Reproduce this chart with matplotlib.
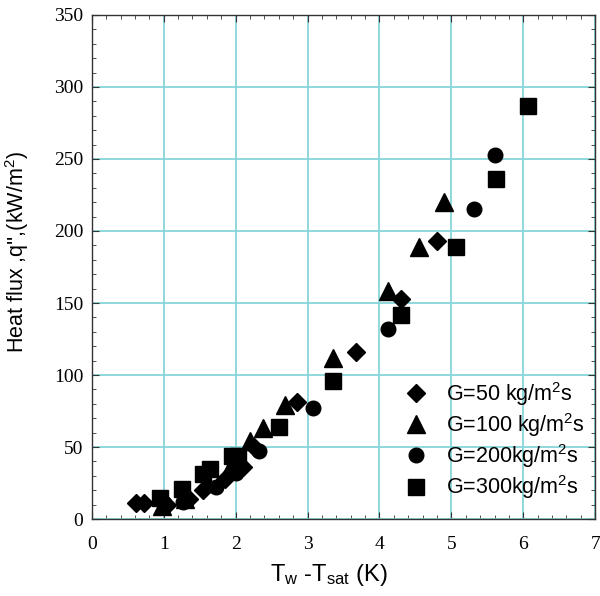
import matplotlib
matplotlib.use("Agg")
import matplotlib.pyplot as plt
from matplotlib.ticker import MultipleLocator

plt.rcParams['mathtext.default'] = 'regular'
plt.rcParams['font.family'] = ['Liberation Sans', 'DejaVu Sans']

# Data
x_g50 = [0.62, 0.73, 1.05, 1.35, 1.55, 1.85, 2.10, 2.25, 2.85, 3.67, 4.30, 4.80]
y_g50 = [11, 11, 10, 14, 20, 28, 36, 50, 81, 116, 153, 193]

x_g100 = [0.98, 1.30, 1.60, 1.95, 2.20, 2.38, 2.68, 3.35, 4.12, 4.55, 4.90]
y_g100 = [9, 14, 25, 38, 54, 63, 79, 112, 158, 189, 220]

x_g200 = [1.00, 1.27, 1.73, 2.00, 2.33, 3.07, 4.12, 5.32, 5.60]
y_g200 = [11, 12, 22, 32, 47, 77, 132, 215, 253]

x_g300 = [0.95, 1.25, 1.55, 1.65, 1.95, 2.03, 2.60, 3.36, 4.30, 5.07, 5.62, 6.07]
y_g300 = [15, 21, 31, 35, 44, 44, 64, 96, 142, 189, 236, 287]

labels = ['G=50 kg/m$^2$s', 'G=100 kg/m$^2$s', 'G=200kg/m$^2$s', 'G=300kg/m$^2$s']
x_ticks = [0, 1, 2, 3, 4, 5, 6, 7]
y_ticks = [0, 50, 100, 150, 200, 250, 300, 350]

fig = plt.figure(figsize=(6.0, 5.96), dpi=100)
ax = fig.add_axes([0.153, 0.129, 0.839, 0.846])

ax.grid(True, which='major', color='#86d6da', linewidth=1.3)
ax.set_axisbelow(True)

ax.plot(x_g50, y_g50, linestyle='none', marker='D', ms=9, color='black', label=labels[0])
ax.plot(x_g100, y_g100, linestyle='none', marker='^', ms=13, color='black', label=labels[1])
ax.plot(x_g200, y_g200, linestyle='none', marker='o', ms=10.5, color='black', label=labels[2])
ax.plot(x_g300, y_g300, linestyle='none', marker='s', ms=11.5, color='black', label=labels[3])

ax.set_xlim(0, 7)
ax.set_ylim(0, 350)
ax.set_xticks(x_ticks)
ax.set_yticks(y_ticks)
ax.xaxis.set_minor_locator(MultipleLocator(0.2))
ax.yaxis.set_minor_locator(MultipleLocator(10))
ax.tick_params(which='both', direction='in', top=True, right=True, color='#333333')
ax.tick_params(which='major', length=5)
ax.tick_params(which='minor', length=3)
ax.tick_params(axis='x', which='major', pad=12)
ax.tick_params(axis='y', which='major', pad=6)
for lab in ax.get_xticklabels() + ax.get_yticklabels():
    lab.set_fontfamily('Liberation Serif')
    lab.set_fontsize(14)
for s in ax.spines.values():
    s.set_color('#333333')
    s.set_linewidth(1.0)

ax.set_xlabel('T$_{w}$ -T$_{sat}$ (K)', fontsize=17)
ax.xaxis.set_label_coords(0.47, -0.085)
ax.set_ylabel("Heat flux ,q'',(kW/m$^2$)", fontsize=15.5)
ax.yaxis.set_label_coords(-0.12, 0.53)

leg = ax.legend(loc='lower right', bbox_to_anchor=(1.005, 0.01), frameon=False,
                fontsize=15.5, handletextpad=0.5, labelspacing=0.15, borderaxespad=0.2,
                markerscale=1.0, handlelength=1.8)

fig.savefig('out.png', dpi=100)
